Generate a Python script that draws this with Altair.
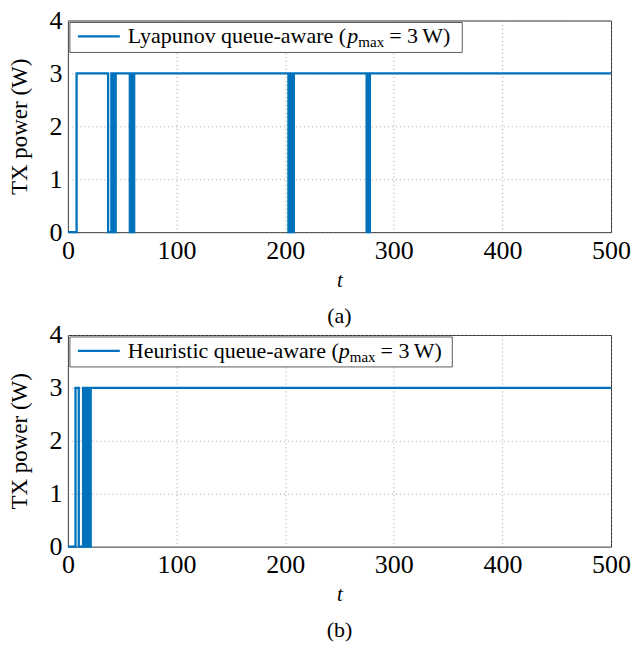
import altair as alt
import pandas as pd

# ---- data (change points, step-after) ----
t_top = [0, 8, 37, 40, 41, 42, 43, 44, 57, 58, 59, 61, 203, 204, 205, 206, 207, 208, 275, 276, 277, 278, 500]
p_top = [0, 3, 0, 3, 0, 3, 0, 3, 0, 3, 0, 3, 0, 3, 0, 3, 0, 3, 0, 3, 0, 3, 3]

t_bot = [0, 7, 10, 14, 15, 16, 17, 18, 19, 21, 500]
p_bot = [0, 3, 0, 3, 0, 3, 0, 3, 0, 3, 3]

x_ticks = [0, 100, 200, 300, 400, 500]
y_ticks = [0, 1, 2, 3, 4]

FONT = "Liberation Serif"
BLUE = "#0072BD"
W, H = 544, 212

# approximate Times advance widths (em)
WID = {"L": .611, "y": .5, "a": .444, "p": .5, "u": .5, "n": .5, "o": .5, "v": .5, " ": .25,
       "q": .5, "e": .444, "-": .333, "w": .722, "r": .333, "(": .333, "H": .722, "i": .278,
       "s": .389, "t": .278, "c": .444}


def len_em(s):
    return sum(WID.get(c, .5) for c in s)


def panel(ts, ps, label_main, label_tail, box_right, tag):
    df = pd.DataFrame({"t": ts, "p": ps})
    line = alt.Chart(df).mark_line(interpolate="step-after", color=BLUE, strokeWidth=2.3).encode(
        x=alt.X("t:Q", scale=alt.Scale(domain=[0, 500], nice=False),
                axis=alt.Axis(values=x_ticks, title="t", titleFontStyle="italic", titleFont=FONT,
                              titleFontSize=21, titleFontWeight="normal", titlePadding=6,
                              labelFont=FONT, labelFontSize=26, labelPadding=5, labelColor="black",
                              labelFlush=False, ticks=False, domain=False,
                              grid=True, gridDash=[1, 3], gridColor="#888", gridWidth=0.8)),
        y=alt.Y("p:Q", scale=alt.Scale(domain=[0, 4], nice=False),
                axis=alt.Axis(values=y_ticks, title="TX power (W)", titleFontSize=23, titleFont=FONT,
                              titleFontWeight="normal", titlePadding=17,
                              labelFont=FONT, labelFontSize=26, labelPadding=6, labelColor="black",
                              labelFlush=False, ticks=False, domain=False,
                              grid=True, gridDash=[1, 3], gridColor="#888", gridWidth=0.8)),
    )
    one = pd.DataFrame({"a": [0]})
    base = alt.Chart(one)
    box = base.mark_rect(fill="white", stroke="#333", strokeWidth=0.8).encode(
        x=alt.value(2), x2=alt.value(box_right), y=alt.value(2), y2=alt.value(32))
    sample = base.mark_rule(color=BLUE, strokeWidth=2.3).encode(
        x=alt.value(10), x2=alt.value(52), y=alt.value(16))
    fs = 22
    w_main = len_em(label_main) * fs
    x0 = 60
    t1 = base.mark_text(align="left", baseline="alphabetic", font=FONT, fontSize=fs, color="black").encode(
        x=alt.value(x0), y=alt.value(23), text=alt.value(label_main))
    xp = x0 + w_main
    t2 = base.mark_text(align="left", baseline="alphabetic", font=FONT, fontSize=fs, fontStyle="italic",
                        color="black").encode(x=alt.value(xp), y=alt.value(23), text=alt.value("p"))
    xm = xp + 11
    t3 = base.mark_text(align="left", baseline="alphabetic", font=FONT, fontSize=15, color="black").encode(
        x=alt.value(xm), y=alt.value(27), text=alt.value("max"))
    xe = xm + 1.722 * 15 + 5
    t4 = base.mark_text(align="left", baseline="alphabetic", font=FONT, fontSize=fs, color="black").encode(
        x=alt.value(xe), y=alt.value(23), text=alt.value(label_tail))
    cap = base.mark_text(align="center", baseline="middle", font=FONT, fontSize=22, color="black").encode(
        x=alt.value(W / 2), y=alt.value(H + 84), text=alt.value(tag))
    return alt.layer(line, box, sample, t1, t2, t3, t4, cap).properties(width=W, height=H)


top = panel(t_top, p_top, "Lyapunov queue-aware (", "= 3\u2009W)", 395, "(a)")
bot = panel(t_bot, p_bot, "Heuristic queue-aware (", "= 3\u2009W)", 385, "(b)")

chart = alt.vconcat(top, bot, spacing=103, bounds="flush").properties(
    padding={"top": -2, "left": 0, "right": 0, "bottom": 0}
).configure_view(stroke="#333", strokeWidth=1).configure_axis(
    labelFont=FONT, titleFont=FONT, labelColor="black", titleColor="black"
)

chart.save("out.html", embed_options={"renderer": "svg", "actions": False})
